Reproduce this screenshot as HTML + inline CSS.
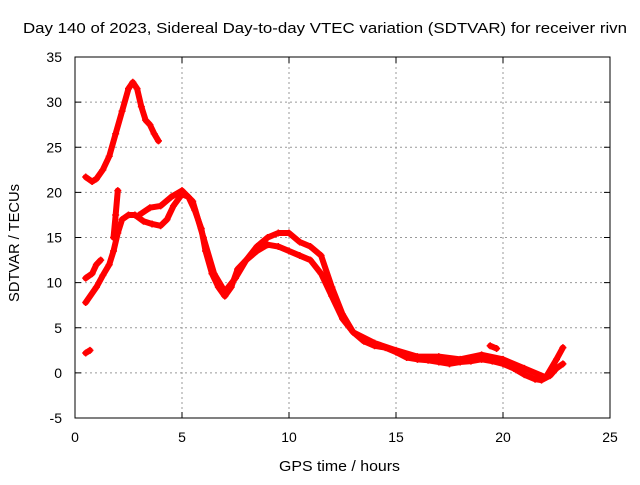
<!DOCTYPE html>
<html><head><meta charset="utf-8"><style>
body{margin:0;background:#fff}
svg{font-family:"Liberation Sans",sans-serif}
</style></head><body>
<svg id="chart" width="640" height="480" xmlns="http://www.w3.org/2000/svg">
<rect width="640" height="480" fill="#fff"/>
<text x="23" y="33" font-size="15" textLength="604" lengthAdjust="spacingAndGlyphs">Day 140 of 2023, Sidereal Day-to-day VTEC variation (SDTVAR) for receiver rivn</text>
<text x="279" y="471" font-size="15" textLength="121" lengthAdjust="spacingAndGlyphs">GPS time / hours</text>
<text x="19" y="243" text-anchor="middle" font-size="15" textLength="118" lengthAdjust="spacingAndGlyphs" transform="rotate(-90 19 243)">SDTVAR / TECUs</text>
<g id="grid"></g><g id="marks"></g>
<rect x="75" y="57" width="535" height="361" fill="none" stroke="#000" stroke-width="1"/>
</svg>
<script>
const xTicks=[0,5,10,15,20,25];
const yTicks=[-5,0,5,10,15,20,25,30,35];
const arcT=[0.5,0.8,1.0,1.3,1.6,1.9,2.2,2.5,2.7,2.9,3.1,3.3,3.5,3.7,3.9];
const arcV=[21.7,21.2,21.5,22.5,24,26.5,29,31.5,32.2,31.5,29.5,28,27.5,26.5,25.7];
const lowT=[0.5,1.0,1.3,1.6,1.8,2.0,2.2,2.5,2.8,3.2,3.6,4.0,4.3,4.6,5.0,5.3,5.6,5.9,6.1,6.4,6.7,7.0,7.3,7.6,8.0,8.5,9.0,9.5,10.0,10.5,11.0,11.5,12.0,12.5,13.0,13.5,14.0,14.5,15.0,15.5,16.0,16.5,17,17.5,18,18.5,19,19.5,20,20.5,21,21.5,21.8,22.2,22.5,22.8];
const lowV=[7.8,9.5,10.8,12,13.5,15.5,17,17.5,17.5,16.8,16.5,16.3,17,18.5,19.8,19.5,18,16,13.5,11,9.5,8.5,9.5,11.5,12.5,13.5,14.2,14,13.5,13,12.5,11,8.5,6,4.5,3.5,3,2.8,2.3,1.7,1.5,1.4,1.2,1.0,1.2,1.3,1.5,1.3,1.0,0.5,-0.2,-0.7,-0.8,-0.3,0.5,1];
const highT=[3,3.5,4.0,4.5,5.0,5.5,6.0,6.5,7,7.5,8,8.5,9,9.5,10,10.5,11,11.5,12,12.5,13,14,15,16,17,18,19,20,21,22,22.5,22.8];
const highV=[17.5,18.3,18.5,19.5,20.2,19,15,11,9,10.5,12.5,14,15,15.5,15.5,14.5,14,13,9.5,6.5,4.5,3.3,2.5,1.8,1.8,1.5,2,1.5,0.5,-0.5,1.5,2.8];
const startT=[0.5,0.8,1.0,1.2];
const startV=[10.5,11,12,12.5];
const spikeT=[1.8,1.9,2.0];
const spikeV=[15,17.5,20.2];
const dotT=[0.5,0.7];
const dotV=[2.2,2.5];
const blipT=[19.4,19.7];
const blipV=[3,2.7];
const NS="http://www.w3.org/2000/svg";
const X=t=>75+t*535/25;
const Y=v=>418-(v+5)*361/40;
const grid=document.getElementById('grid'),marks=document.getElementById('marks');
function mk(tag,attrs,parent){const e=document.createElementNS(NS,tag);for(const k in attrs)e.setAttribute(k,attrs[k]);parent.appendChild(e);return e;}
xTicks.forEach(t=>{
  if(t>0&&t<25){const l=mk('line',{x1:X(t),x2:X(t),y1:57,y2:418,stroke:'#999','stroke-dasharray':'2,3'},grid);
  
  }
  mk('line',{x1:X(t),x2:X(t),y1:418,y2:412,stroke:'#000'},grid);
  mk('line',{x1:X(t),x2:X(t),y1:57,y2:63,stroke:'#000'},grid);
  const tx=mk('text',{x:X(t),y:442,'text-anchor':'middle','font-size':14},grid);tx.textContent=t;
  
  
});
yTicks.forEach(v=>{
  if(v>-5&&v<35){const l=mk('line',{x1:75,x2:610,y1:Y(v),y2:Y(v),stroke:'#999','stroke-dasharray':'2,3'},grid);
  
  }
  mk('line',{x1:75,x2:81,y1:Y(v),y2:Y(v),stroke:'#000'},grid);
  mk('line',{x1:610,x2:604,y1:Y(v),y2:Y(v),stroke:'#000'},grid);
  const tx=mk('text',{x:62,y:Y(v)+5,'text-anchor':'end','font-size':14},grid);tx.textContent=v;
  
  
});
function series(T,V,name){
  const g=mk('g',{},marks);
  
  
  const pts=T.map((t,i)=>X(t)+','+Y(V[i])).join(' ');
  mk('polyline',{points:pts,fill:'none',stroke:'#f00','stroke-width':6,'stroke-linejoin':'round','stroke-linecap':'round'},g);
  T.forEach((t,i)=>{const x=X(t),y=Y(V[i]);
    mk('path',{d:`M${x-3.5},${y}h7M${x},${y-3.5}v7`,stroke:'#f00','stroke-width':1.5},g);});
}
series(arcT,arcV,'series-arc');
series(lowT,lowV,'series-lower-trace');
series(highT,highV,'series-upper-trace');
series(startT,startV,'series-start');
series(spikeT,spikeV,'series-spike');
series(dotT,dotV,'series-dot');
series(blipT,blipV,'series-blip');
</script>
</body></html>
